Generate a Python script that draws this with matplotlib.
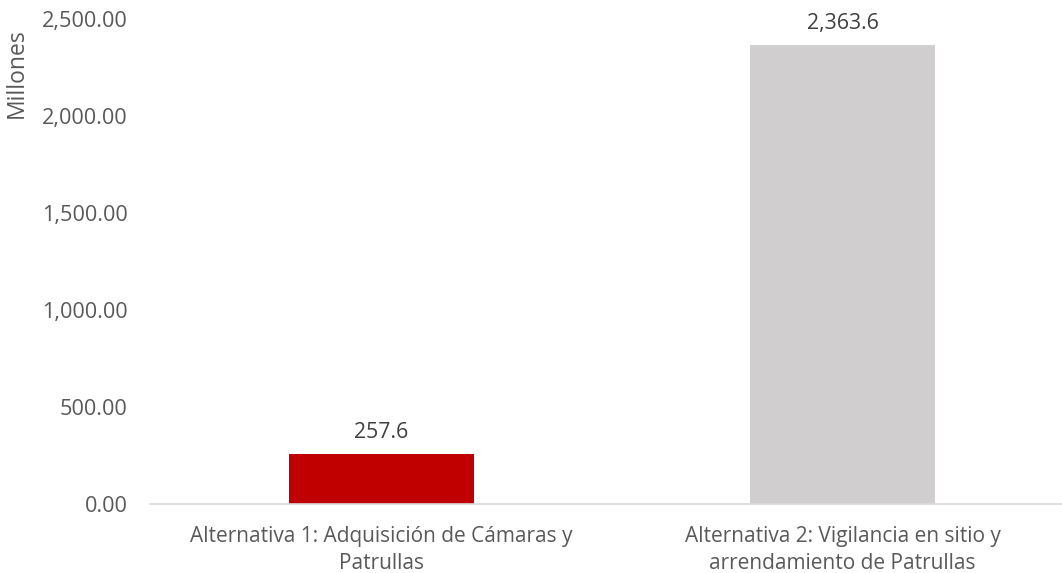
import matplotlib.pyplot as plt
from matplotlib.ticker import FuncFormatter

categorias = ["Alternativa 1: Adquisición de Cámaras y\nPatrullas",
              "Alternativa 2: Vigilancia en sitio y\narrendamiento de Patrullas"]
valores = [257.6, 2363.6]
colores = ["#C00000", "#D0CECE"]
ticks_y = [0, 500, 1000, 1500, 2000, 2500]

plt.rcParams['font.family'] = ['Open Sans', 'DejaVu Sans']

fig = plt.figure(figsize=(10.62, 5.73), dpi=100)
ax = fig.add_axes([0.1412, 0.1204, 0.858, 0.8464])

x = list(range(len(categorias)))
barras = ax.bar(x, valores, width=0.4, color=colores)

for b, v in zip(barras, valores):
    ax.annotate(f"{v:,.1f}", (b.get_x() + b.get_width() / 2, v),
                xytext=(0, 8), textcoords="offset points",
                ha="center", va="bottom", fontsize=15.3, color="#404040")

ax.set_xlim(-0.502, 1.474)
ax.set_ylim(0, 2500)
ax.set_yticks(ticks_y)
ax.yaxis.set_major_formatter(FuncFormatter(lambda v, p: f"{v:,.2f}"))
ax.set_xticks(x)
ax.set_xticklabels(categorias, fontsize=15, color="#595959", linespacing=1.35)
ax.tick_params(axis="y", labelsize=15.6, labelcolor="#595959", length=0, pad=16)
ax.tick_params(axis="x", length=0, pad=16)

for s in ["top", "right", "left"]:
    ax.spines[s].set_visible(False)
ax.spines["bottom"].set_color("#D9D9D9")
ax.spines["bottom"].set_linewidth(1.2)

ax.set_ylabel("Millones", fontsize=16.5, color="#595959")
ax.yaxis.set_label_coords(-0.133, 0.889)

fig.savefig("out.png", dpi=100)
